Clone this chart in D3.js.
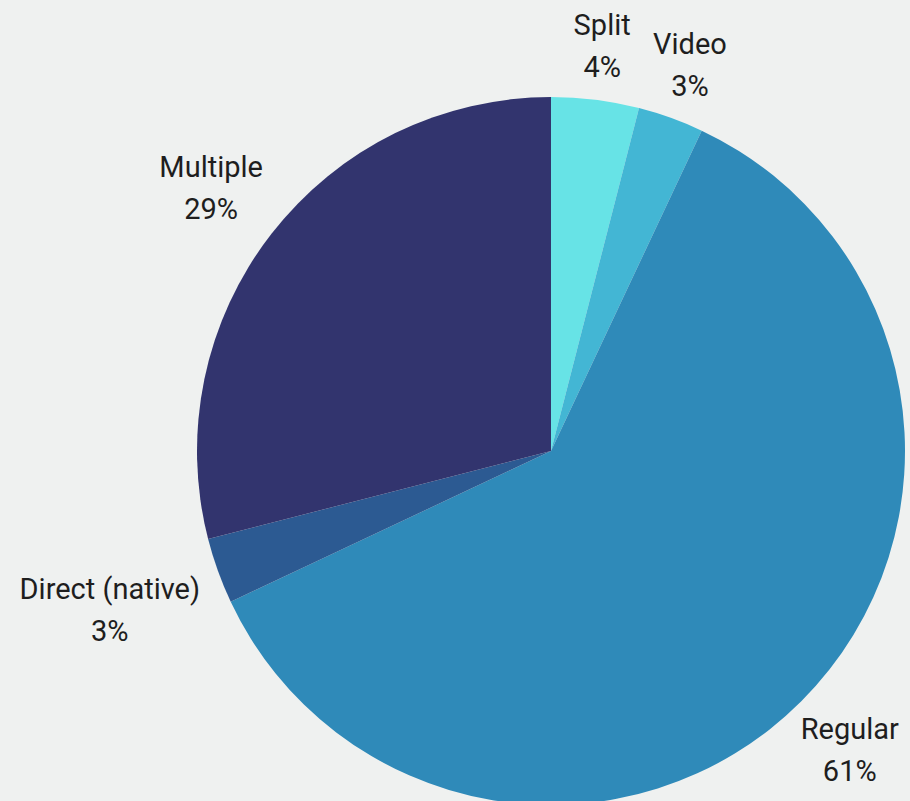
<!DOCTYPE html>
<html>
<head>
<meta charset="utf-8">
<script src="https://cdn.jsdelivr.net/npm/d3@7"></script>
<style>
  html, body { margin: 0; padding: 0; background: #eff1f0; }
  svg { display: block; }
</style>
</head>
<body>
<svg id="chart" width="910" height="801"></svg>
<script>
// Share of post formats, clockwise from twelve o'clock
const categories = ["Split", "Video", "Regular", "Direct (native)", "Multiple"];
const shares = [4, 3, 61, 3, 29];
const sliceColors = ["#67e3e6", "#43b6d4", "#2f8ab9", "#2c5a92", "#32346e"];

const width = 910, height = 801;
const cx = 551, cy = 451, radius = 354;
const labelGap = 19, lineHeight = 42;

const svg = d3.select("#chart");
svg.append("rect").attr("width", width).attr("height", height).attr("fill", "#eff1f0");

const data = categories.map((c, i) => ({ name: c, value: shares[i], color: sliceColors[i] }));

const pie = d3.pie().value(d => d.value).sort(null);
const arc = d3.arc().innerRadius(0).outerRadius(radius);
const arcs = pie(data);

const g = svg.append("g").attr("transform", `translate(${cx},${cy})`);

g.selectAll("path.slice")
  .data(arcs)
  .join("path")
  .attr("class", "slice")
  .attr("d", arc)
  .attr("fill", d => d.data.color);

// Two-line labels placed outside the pie along each slice's mid angle,
// pushed out until their bounding box clears the rim.
const labels = g.selectAll("g.label")
  .data(arcs)
  .join("g")
  .attr("class", "label");

labels.each(function(d) {
  const sel = d3.select(this);
  const t = sel.append("text")
    .attr("text-anchor", "middle")
    .attr("font-family", "Roboto, 'Open Sans', sans-serif")
    .attr("font-size", 29)
    .attr("font-weight", 400)
    .attr("fill", "#1e1e1e");
  t.append("tspan").attr("x", 0).attr("y", -lineHeight / 2).attr("dy", "0.35em").text(d.data.name);
  t.append("tspan").attr("x", 0).attr("y", lineHeight / 2).attr("dy", "0.35em").text(d.data.value + "%");

  const bb = t.node().getBBox();
  const hw = bb.width / 2, hh = lineHeight / 2 + 14;
  const mid = (d.startAngle + d.endAngle) / 2;
  const ux = Math.sin(mid), uy = -Math.cos(mid);
  const edge = Math.min(
    Math.abs(ux) > 1e-6 ? hw / Math.abs(ux) : Infinity,
    Math.abs(uy) > 1e-6 ? hh / Math.abs(uy) : Infinity
  );
  const r = radius + labelGap + edge;
  sel.attr("transform", `translate(${ux * r},${uy * r})`);
});
</script>
</body>
</html>
